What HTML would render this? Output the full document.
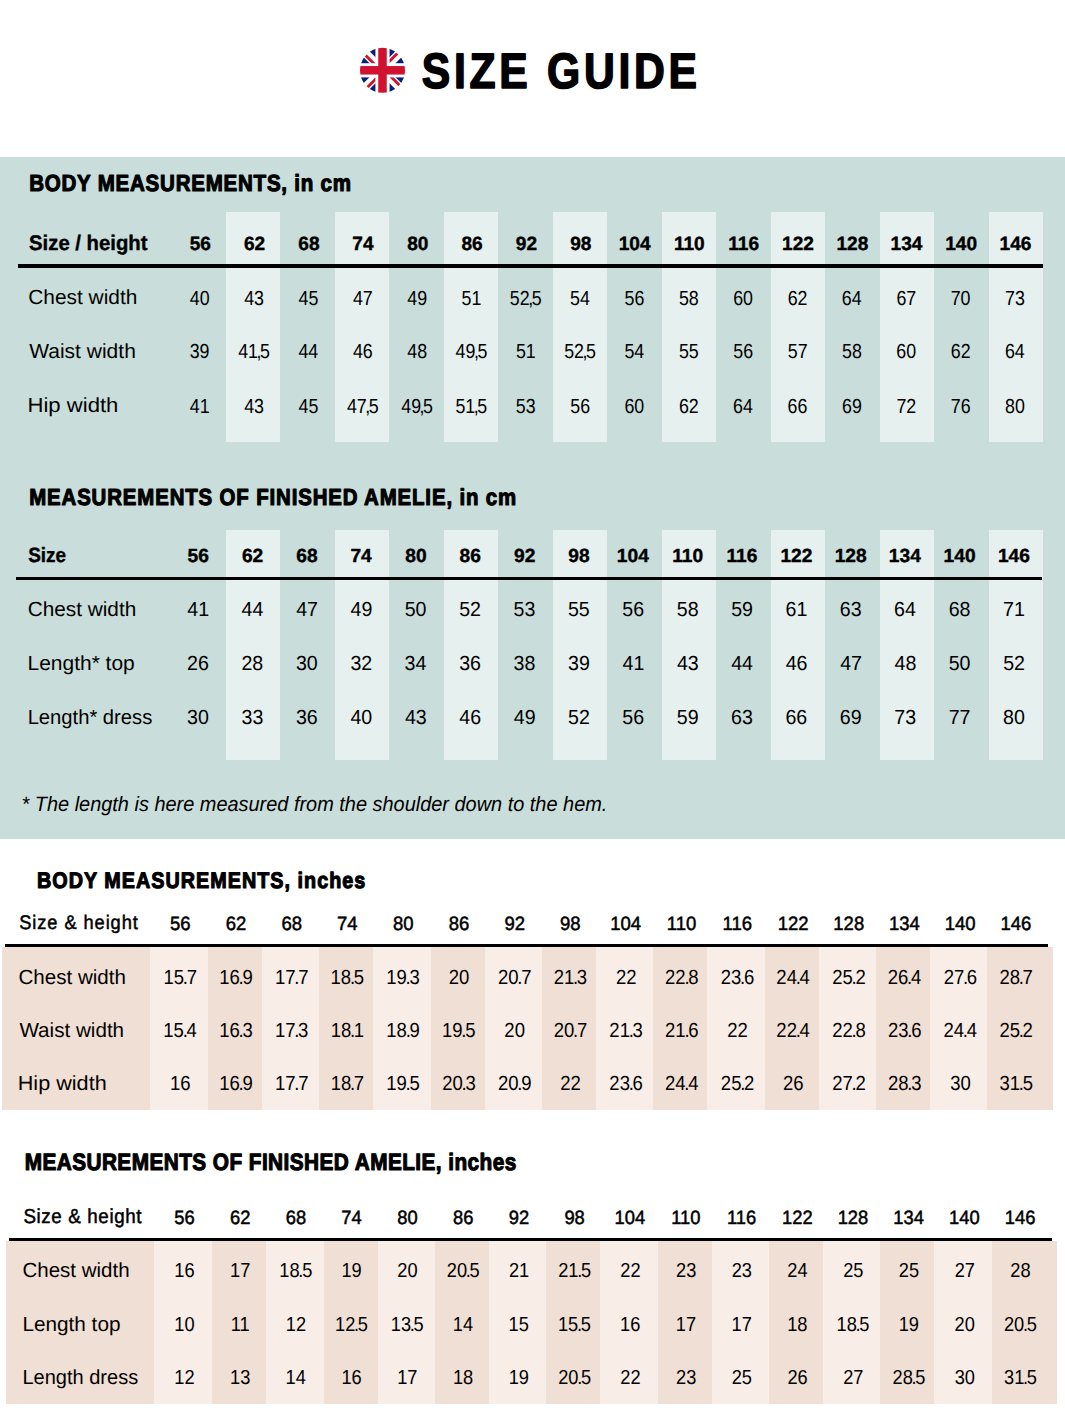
<!DOCTYPE html>
<html><head><meta charset="utf-8"><title>Size Guide</title>
<style>
html,body{margin:0;padding:0;background:#fff;}
body{width:1065px;height:1420px;position:relative;overflow:hidden;font-family:"Liberation Sans",sans-serif;}
#bg div{position:absolute;}
svg{position:absolute;left:0;top:0;}
text{font-family:"Liberation Sans",sans-serif;fill:#000;text-rendering:geometricPrecision;}
.b{font-weight:bold;}
.i{font-style:italic;}
</style></head><body>
<div id="bg">
<div style="left:0.00px;top:157.00px;width:1065.00px;height:681.50px;background:#c9dedb"></div>
<div style="left:226.00px;top:212.00px;width:54.00px;height:230.00px;background:#e6f0ee"></div>
<div style="left:335.00px;top:212.00px;width:54.00px;height:230.00px;background:#e6f0ee"></div>
<div style="left:444.00px;top:212.00px;width:54.00px;height:230.00px;background:#e6f0ee"></div>
<div style="left:553.00px;top:212.00px;width:54.00px;height:230.00px;background:#e6f0ee"></div>
<div style="left:662.00px;top:212.00px;width:54.00px;height:230.00px;background:#e6f0ee"></div>
<div style="left:771.00px;top:212.00px;width:54.00px;height:230.00px;background:#e6f0ee"></div>
<div style="left:880.00px;top:212.00px;width:54.00px;height:230.00px;background:#e6f0ee"></div>
<div style="left:989.00px;top:212.00px;width:54.00px;height:230.00px;background:#e6f0ee"></div>
<div style="left:18.00px;top:264.00px;width:1025.00px;height:4.00px;background:#000"></div>
<div style="left:226.00px;top:530.30px;width:54.00px;height:229.80px;background:#e6f0ee"></div>
<div style="left:335.00px;top:530.30px;width:54.00px;height:229.80px;background:#e6f0ee"></div>
<div style="left:444.00px;top:530.30px;width:54.00px;height:229.80px;background:#e6f0ee"></div>
<div style="left:553.00px;top:530.30px;width:54.00px;height:229.80px;background:#e6f0ee"></div>
<div style="left:662.00px;top:530.30px;width:54.00px;height:229.80px;background:#e6f0ee"></div>
<div style="left:771.00px;top:530.30px;width:54.00px;height:229.80px;background:#e6f0ee"></div>
<div style="left:880.00px;top:530.30px;width:54.00px;height:229.80px;background:#e6f0ee"></div>
<div style="left:989.00px;top:530.30px;width:54.00px;height:229.80px;background:#e6f0ee"></div>
<div style="left:15.80px;top:577.00px;width:1026.20px;height:3.00px;background:#000"></div>
<div style="left:2.00px;top:947.00px;width:1051.00px;height:162.80px;background:#f8ede7"></div>
<div style="left:2.00px;top:947.00px;width:148.30px;height:162.80px;background:#f0dfd4"></div>
<div style="left:208.00px;top:947.00px;width:54.00px;height:162.80px;background:#f0dfd4"></div>
<div style="left:319.33px;top:947.00px;width:54.00px;height:162.80px;background:#f0dfd4"></div>
<div style="left:430.66px;top:947.00px;width:54.00px;height:162.80px;background:#f0dfd4"></div>
<div style="left:541.99px;top:947.00px;width:54.00px;height:162.80px;background:#f0dfd4"></div>
<div style="left:653.32px;top:947.00px;width:54.00px;height:162.80px;background:#f0dfd4"></div>
<div style="left:764.65px;top:947.00px;width:54.00px;height:162.80px;background:#f0dfd4"></div>
<div style="left:875.98px;top:947.00px;width:54.00px;height:162.80px;background:#f0dfd4"></div>
<div style="left:987.31px;top:947.00px;width:65.69px;height:162.80px;background:#f0dfd4"></div>
<div style="left:5.00px;top:944.00px;width:1043.00px;height:3.00px;background:#000"></div>
<div style="left:6.00px;top:1240.50px;width:1051.00px;height:163.20px;background:#f8ede7"></div>
<div style="left:6.00px;top:1240.50px;width:148.20px;height:163.20px;background:#f0dfd4"></div>
<div style="left:212.30px;top:1240.50px;width:54.00px;height:163.20px;background:#f0dfd4"></div>
<div style="left:323.63px;top:1240.50px;width:54.00px;height:163.20px;background:#f0dfd4"></div>
<div style="left:434.96px;top:1240.50px;width:54.00px;height:163.20px;background:#f0dfd4"></div>
<div style="left:546.29px;top:1240.50px;width:54.00px;height:163.20px;background:#f0dfd4"></div>
<div style="left:657.62px;top:1240.50px;width:54.00px;height:163.20px;background:#f0dfd4"></div>
<div style="left:768.95px;top:1240.50px;width:54.00px;height:163.20px;background:#f0dfd4"></div>
<div style="left:880.28px;top:1240.50px;width:54.00px;height:163.20px;background:#f0dfd4"></div>
<div style="left:991.61px;top:1240.50px;width:65.39px;height:163.20px;background:#f0dfd4"></div>
<div style="left:9.00px;top:1238.00px;width:1042.50px;height:3.00px;background:#000"></div>
</div>
<svg width="1065" height="1420" viewBox="0 0 1065 1420">
<g transform="translate(382.5,70.3)">
<rect x="-24" y="-24" width="48" height="48" fill="#05207a"/>
<path d="M-24-24L24 24M24-24L-24 24" stroke="#fff" stroke-width="8.5"/>
<path d="M-1 1L-24-22M-1-1L22-24M1-1L24 22M1 1L-22 24" stroke="#d0112f" stroke-width="2.83"/>
<rect x="-7.1" y="-24" width="14.2" height="48" fill="#fff"/>
<rect x="-24" y="-7.1" width="48" height="14.2" fill="#fff"/>
<rect x="-4.25" y="-24" width="8.5" height="48" fill="#d0112f"/>
<rect x="-24" y="-4.25" width="48" height="8.5" fill="#d0112f"/>
<circle r="30.5" fill="none" stroke="#fff" stroke-width="16"/>
</g>
<text class="b" font-size="49.60" transform="translate(421.71,88.00) scale(0.8600,1)" letter-spacing="4.336" stroke="#000" stroke-width="1.6" stroke-linejoin="round">SIZE GUIDE</text>
<text class="b" font-size="23.35" transform="translate(29.20,191.00) scale(0.8800,1)" letter-spacing="0.859" stroke="#000" stroke-width="1.1" stroke-linejoin="round">BODY MEASUREMENTS, in cm</text>
<text class="b" font-size="21.09" transform="translate(29.08,250.00) scale(0.9631,1)" stroke="#000" stroke-width="0.4" stroke-linejoin="round">Size / height</text>
<text class="b" font-size="19.22" transform="translate(189.65,250.00) scale(0.9936,1)" stroke="#000" stroke-width="0.4" stroke-linejoin="round">56</text>
<text class="b" font-size="19.22" transform="translate(243.97,250.00) scale(0.9936,1)" stroke="#000" stroke-width="0.4" stroke-linejoin="round">62</text>
<text class="b" font-size="19.22" transform="translate(298.27,250.00) scale(0.9936,1)" stroke="#000" stroke-width="0.4" stroke-linejoin="round">68</text>
<text class="b" font-size="19.22" transform="translate(352.35,250.00) scale(0.9936,1)" stroke="#000" stroke-width="0.4" stroke-linejoin="round">74</text>
<text class="b" font-size="19.22" transform="translate(407.15,250.00) scale(0.9936,1)" stroke="#000" stroke-width="0.4" stroke-linejoin="round">80</text>
<text class="b" font-size="19.22" transform="translate(461.47,250.00) scale(0.9936,1)" stroke="#000" stroke-width="0.4" stroke-linejoin="round">86</text>
<text class="b" font-size="19.22" transform="translate(515.84,250.00) scale(0.9936,1)" stroke="#000" stroke-width="0.4" stroke-linejoin="round">92</text>
<text class="b" font-size="19.22" transform="translate(570.14,250.00) scale(0.9936,1)" stroke="#000" stroke-width="0.4" stroke-linejoin="round">98</text>
<text class="b" font-size="19.22" transform="translate(618.69,250.00) scale(0.9936,1)" stroke="#000" stroke-width="0.4" stroke-linejoin="round">104</text>
<text class="b" font-size="19.22" transform="translate(673.92,250.00) scale(0.9936,1)" stroke="#000" stroke-width="0.4" stroke-linejoin="round">110</text>
<text class="b" font-size="19.22" transform="translate(728.24,250.00) scale(0.9936,1)" stroke="#000" stroke-width="0.4" stroke-linejoin="round">116</text>
<text class="b" font-size="19.22" transform="translate(782.11,250.00) scale(0.9936,1)" stroke="#000" stroke-width="0.4" stroke-linejoin="round">122</text>
<text class="b" font-size="19.22" transform="translate(836.41,250.00) scale(0.9936,1)" stroke="#000" stroke-width="0.4" stroke-linejoin="round">128</text>
<text class="b" font-size="19.22" transform="translate(890.54,250.00) scale(0.9936,1)" stroke="#000" stroke-width="0.4" stroke-linejoin="round">134</text>
<text class="b" font-size="19.22" transform="translate(945.24,250.00) scale(0.9936,1)" stroke="#000" stroke-width="0.4" stroke-linejoin="round">140</text>
<text class="b" font-size="19.22" transform="translate(999.56,250.00) scale(0.9936,1)" stroke="#000" stroke-width="0.4" stroke-linejoin="round">146</text>
<text class="r" font-size="20.50" transform="translate(28.26,304.40) scale(1.0186,1)">Chest width</text>
<text class="r" font-size="20.35" transform="translate(189.74,304.60) scale(0.8759,1)">40</text>
<text class="r" font-size="20.35" transform="translate(244.15,304.60) scale(0.8759,1)">43</text>
<text class="r" font-size="20.35" transform="translate(298.50,304.60) scale(0.8759,1)">45</text>
<text class="r" font-size="20.35" transform="translate(352.96,304.60) scale(0.8759,1)">47</text>
<text class="r" font-size="20.35" transform="translate(407.29,304.60) scale(0.8759,1)">49</text>
<text class="r" font-size="20.35" transform="translate(461.52,304.60) scale(0.8759,1)">51</text>
<text class="r" font-size="20.35" transform="translate(509.83,304.60) scale(0.8759,1)">52<tspan dx="-1.658">,</tspan><tspan dx="-1.658">5</tspan></text>
<text class="r" font-size="20.35" transform="translate(570.08,304.60) scale(0.8759,1)">54</text>
<text class="r" font-size="20.35" transform="translate(624.59,304.60) scale(0.8759,1)">56</text>
<text class="r" font-size="20.35" transform="translate(678.96,304.60) scale(0.8759,1)">58</text>
<text class="r" font-size="20.35" transform="translate(733.19,304.60) scale(0.8759,1)">60</text>
<text class="r" font-size="20.35" transform="translate(787.68,304.60) scale(0.8759,1)">62</text>
<text class="r" font-size="20.35" transform="translate(841.84,304.60) scale(0.8759,1)">64</text>
<text class="r" font-size="20.35" transform="translate(896.42,304.60) scale(0.8759,1)">67</text>
<text class="r" font-size="20.35" transform="translate(950.67,304.60) scale(0.8759,1)">70</text>
<text class="r" font-size="20.35" transform="translate(1005.09,304.60) scale(0.8759,1)">73</text>
<text class="r" font-size="20.50" transform="translate(29.19,358.20) scale(1.0248,1)">Waist width</text>
<text class="r" font-size="20.35" transform="translate(189.67,358.40) scale(0.8759,1)">39</text>
<text class="r" font-size="20.35" transform="translate(238.14,358.40) scale(0.8759,1)">41<tspan dx="-1.658">,</tspan><tspan dx="-1.658">5</tspan></text>
<text class="r" font-size="20.35" transform="translate(298.39,358.40) scale(0.8759,1)">44</text>
<text class="r" font-size="20.35" transform="translate(352.89,358.40) scale(0.8759,1)">46</text>
<text class="r" font-size="20.35" transform="translate(407.26,358.40) scale(0.8759,1)">48</text>
<text class="r" font-size="20.35" transform="translate(455.62,358.40) scale(0.8759,1)">49<tspan dx="-1.658">,</tspan><tspan dx="-1.658">5</tspan></text>
<text class="r" font-size="20.35" transform="translate(515.89,358.40) scale(0.8759,1)">51</text>
<text class="r" font-size="20.35" transform="translate(564.20,358.40) scale(0.8759,1)">52<tspan dx="-1.658">,</tspan><tspan dx="-1.658">5</tspan></text>
<text class="r" font-size="20.35" transform="translate(624.45,358.40) scale(0.8759,1)">54</text>
<text class="r" font-size="20.35" transform="translate(678.94,358.40) scale(0.8759,1)">55</text>
<text class="r" font-size="20.35" transform="translate(733.33,358.40) scale(0.8759,1)">56</text>
<text class="r" font-size="20.35" transform="translate(787.76,358.40) scale(0.8759,1)">57</text>
<text class="r" font-size="20.35" transform="translate(842.07,358.40) scale(0.8759,1)">58</text>
<text class="r" font-size="20.35" transform="translate(896.30,358.40) scale(0.8759,1)">60</text>
<text class="r" font-size="20.35" transform="translate(950.79,358.40) scale(0.8759,1)">62</text>
<text class="r" font-size="20.35" transform="translate(1004.95,358.40) scale(0.8759,1)">64</text>
<text class="r" font-size="20.50" transform="translate(27.48,412.30) scale(1.0783,1)">Hip width</text>
<text class="r" font-size="20.35" transform="translate(189.83,412.50) scale(0.8759,1)">41</text>
<text class="r" font-size="20.35" transform="translate(244.15,412.50) scale(0.8759,1)">43</text>
<text class="r" font-size="20.35" transform="translate(298.50,412.50) scale(0.8759,1)">45</text>
<text class="r" font-size="20.35" transform="translate(346.88,412.50) scale(0.8759,1)">47<tspan dx="-1.658">,</tspan><tspan dx="-1.658">5</tspan></text>
<text class="r" font-size="20.35" transform="translate(401.25,412.50) scale(0.8759,1)">49<tspan dx="-1.658">,</tspan><tspan dx="-1.658">5</tspan></text>
<text class="r" font-size="20.35" transform="translate(455.46,412.50) scale(0.8759,1)">51<tspan dx="-1.658">,</tspan><tspan dx="-1.658">5</tspan></text>
<text class="r" font-size="20.35" transform="translate(515.85,412.50) scale(0.8759,1)">53</text>
<text class="r" font-size="20.35" transform="translate(570.22,412.50) scale(0.8759,1)">56</text>
<text class="r" font-size="20.35" transform="translate(624.45,412.50) scale(0.8759,1)">60</text>
<text class="r" font-size="20.35" transform="translate(678.94,412.50) scale(0.8759,1)">62</text>
<text class="r" font-size="20.35" transform="translate(733.10,412.50) scale(0.8759,1)">64</text>
<text class="r" font-size="20.35" transform="translate(787.61,412.50) scale(0.8759,1)">66</text>
<text class="r" font-size="20.35" transform="translate(842.00,412.50) scale(0.8759,1)">69</text>
<text class="r" font-size="20.35" transform="translate(896.42,412.50) scale(0.8759,1)">72</text>
<text class="r" font-size="20.35" transform="translate(950.72,412.50) scale(0.8759,1)">76</text>
<text class="r" font-size="20.35" transform="translate(1005.11,412.50) scale(0.8759,1)">80</text>
<text class="b" font-size="23.20" transform="translate(29.21,505.00) scale(0.8800,1)" letter-spacing="0.983" stroke="#000" stroke-width="1.1" stroke-linejoin="round">MEASUREMENTS OF FINISHED AMELIE, in cm</text>
<text class="b" font-size="20.65" transform="translate(28.21,562.00) scale(0.9179,1)" stroke="#000" stroke-width="0.4" stroke-linejoin="round">Size</text>
<text class="b" font-size="18.94" transform="translate(187.61,561.70) scale(1.0119,1)" stroke="#000" stroke-width="0.4" stroke-linejoin="round">56</text>
<text class="b" font-size="18.94" transform="translate(241.96,561.70) scale(1.0119,1)" stroke="#000" stroke-width="0.4" stroke-linejoin="round">62</text>
<text class="b" font-size="18.94" transform="translate(296.29,561.70) scale(1.0119,1)" stroke="#000" stroke-width="0.4" stroke-linejoin="round">68</text>
<text class="b" font-size="18.94" transform="translate(350.40,561.70) scale(1.0119,1)" stroke="#000" stroke-width="0.4" stroke-linejoin="round">74</text>
<text class="b" font-size="18.94" transform="translate(405.24,561.70) scale(1.0119,1)" stroke="#000" stroke-width="0.4" stroke-linejoin="round">80</text>
<text class="b" font-size="18.94" transform="translate(459.59,561.70) scale(1.0119,1)" stroke="#000" stroke-width="0.4" stroke-linejoin="round">86</text>
<text class="b" font-size="18.94" transform="translate(513.99,561.70) scale(1.0119,1)" stroke="#000" stroke-width="0.4" stroke-linejoin="round">92</text>
<text class="b" font-size="18.94" transform="translate(568.32,561.70) scale(1.0119,1)" stroke="#000" stroke-width="0.4" stroke-linejoin="round">98</text>
<text class="b" font-size="18.94" transform="translate(616.87,561.70) scale(1.0119,1)" stroke="#000" stroke-width="0.4" stroke-linejoin="round">104</text>
<text class="b" font-size="18.94" transform="translate(672.13,561.70) scale(1.0119,1)" stroke="#000" stroke-width="0.4" stroke-linejoin="round">110</text>
<text class="b" font-size="18.94" transform="translate(726.48,561.70) scale(1.0119,1)" stroke="#000" stroke-width="0.4" stroke-linejoin="round">116</text>
<text class="b" font-size="18.94" transform="translate(780.38,561.70) scale(1.0119,1)" stroke="#000" stroke-width="0.4" stroke-linejoin="round">122</text>
<text class="b" font-size="18.94" transform="translate(834.71,561.70) scale(1.0119,1)" stroke="#000" stroke-width="0.4" stroke-linejoin="round">128</text>
<text class="b" font-size="18.94" transform="translate(888.87,561.70) scale(1.0119,1)" stroke="#000" stroke-width="0.4" stroke-linejoin="round">134</text>
<text class="b" font-size="18.94" transform="translate(943.61,561.70) scale(1.0119,1)" stroke="#000" stroke-width="0.4" stroke-linejoin="round">140</text>
<text class="b" font-size="18.94" transform="translate(997.96,561.70) scale(1.0119,1)" stroke="#000" stroke-width="0.4" stroke-linejoin="round">146</text>
<text class="r" font-size="20.50" transform="translate(27.66,615.90) scale(1.0138,1)">Chest width</text>
<text class="r" font-size="20.35" transform="translate(187.36,616.10) scale(0.9637,1)">41</text>
<text class="r" font-size="20.35" transform="translate(241.56,616.10) scale(0.9637,1)">44</text>
<text class="r" font-size="20.35" transform="translate(296.18,616.10) scale(0.9637,1)">47</text>
<text class="r" font-size="20.35" transform="translate(350.53,616.10) scale(0.9637,1)">49</text>
<text class="r" font-size="20.35" transform="translate(404.69,616.10) scale(0.9637,1)">50</text>
<text class="r" font-size="20.35" transform="translate(459.21,616.10) scale(0.9637,1)">52</text>
<text class="r" font-size="20.35" transform="translate(513.54,616.10) scale(0.9637,1)">53</text>
<text class="r" font-size="20.35" transform="translate(567.91,616.10) scale(0.9637,1)">55</text>
<text class="r" font-size="20.35" transform="translate(622.34,616.10) scale(0.9637,1)">56</text>
<text class="r" font-size="20.35" transform="translate(676.74,616.10) scale(0.9637,1)">58</text>
<text class="r" font-size="20.35" transform="translate(731.16,616.10) scale(0.9637,1)">59</text>
<text class="r" font-size="20.35" transform="translate(785.49,616.10) scale(0.9637,1)">61</text>
<text class="r" font-size="20.35" transform="translate(839.84,616.10) scale(0.9637,1)">63</text>
<text class="r" font-size="20.35" transform="translate(894.09,616.10) scale(0.9637,1)">64</text>
<text class="r" font-size="20.35" transform="translate(948.64,616.10) scale(0.9637,1)">68</text>
<text class="r" font-size="20.35" transform="translate(1003.09,616.10) scale(0.9637,1)">71</text>
<text class="r" font-size="20.50" transform="translate(27.57,669.70) scale(1.0220,1)">Length* top</text>
<text class="r" font-size="20.35" transform="translate(187.04,669.90) scale(0.9637,1)">26</text>
<text class="r" font-size="20.35" transform="translate(241.44,669.90) scale(0.9637,1)">28</text>
<text class="r" font-size="20.35" transform="translate(295.91,669.90) scale(0.9637,1)">30</text>
<text class="r" font-size="20.35" transform="translate(350.44,669.90) scale(0.9637,1)">32</text>
<text class="r" font-size="20.35" transform="translate(404.62,669.90) scale(0.9637,1)">34</text>
<text class="r" font-size="20.35" transform="translate(459.16,669.90) scale(0.9637,1)">36</text>
<text class="r" font-size="20.35" transform="translate(513.56,669.90) scale(0.9637,1)">38</text>
<text class="r" font-size="20.35" transform="translate(567.99,669.90) scale(0.9637,1)">39</text>
<text class="r" font-size="20.35" transform="translate(622.56,669.90) scale(0.9637,1)">41</text>
<text class="r" font-size="20.35" transform="translate(676.91,669.90) scale(0.9637,1)">43</text>
<text class="r" font-size="20.35" transform="translate(731.16,669.90) scale(0.9637,1)">44</text>
<text class="r" font-size="20.35" transform="translate(785.71,669.90) scale(0.9637,1)">46</text>
<text class="r" font-size="20.35" transform="translate(840.18,669.90) scale(0.9637,1)">47</text>
<text class="r" font-size="20.35" transform="translate(894.51,669.90) scale(0.9637,1)">48</text>
<text class="r" font-size="20.35" transform="translate(948.69,669.90) scale(0.9637,1)">50</text>
<text class="r" font-size="20.35" transform="translate(1003.21,669.90) scale(0.9637,1)">52</text>
<text class="r" font-size="20.50" transform="translate(27.63,723.80) scale(0.9849,1)">Length* dress</text>
<text class="r" font-size="20.35" transform="translate(187.11,724.00) scale(0.9637,1)">30</text>
<text class="r" font-size="20.35" transform="translate(241.56,724.00) scale(0.9637,1)">33</text>
<text class="r" font-size="20.35" transform="translate(295.96,724.00) scale(0.9637,1)">36</text>
<text class="r" font-size="20.35" transform="translate(350.46,724.00) scale(0.9637,1)">40</text>
<text class="r" font-size="20.35" transform="translate(404.91,724.00) scale(0.9637,1)">43</text>
<text class="r" font-size="20.35" transform="translate(459.31,724.00) scale(0.9637,1)">46</text>
<text class="r" font-size="20.35" transform="translate(513.73,724.00) scale(0.9637,1)">49</text>
<text class="r" font-size="20.35" transform="translate(568.01,724.00) scale(0.9637,1)">52</text>
<text class="r" font-size="20.35" transform="translate(622.34,724.00) scale(0.9637,1)">56</text>
<text class="r" font-size="20.35" transform="translate(676.76,724.00) scale(0.9637,1)">59</text>
<text class="r" font-size="20.35" transform="translate(731.04,724.00) scale(0.9637,1)">63</text>
<text class="r" font-size="20.35" transform="translate(785.44,724.00) scale(0.9637,1)">66</text>
<text class="r" font-size="20.35" transform="translate(839.87,724.00) scale(0.9637,1)">69</text>
<text class="r" font-size="20.35" transform="translate(894.24,724.00) scale(0.9637,1)">73</text>
<text class="r" font-size="20.35" transform="translate(948.71,724.00) scale(0.9637,1)">77</text>
<text class="r" font-size="20.35" transform="translate(1003.07,724.00) scale(0.9637,1)">80</text>
<text class="i" font-size="20.80" transform="translate(21.50,811.20) scale(0.9580,1)">* The length is here measured from the shoulder down to the hem.</text>
<text class="b" font-size="22.47" transform="translate(37.05,888.00) scale(0.8800,1)" letter-spacing="1.148" stroke="#000" stroke-width="1.1" stroke-linejoin="round">BODY MEASUREMENTS, inches</text>
<text class="r" font-size="19.64" transform="translate(19.21,929.15) scale(0.9300,1)" letter-spacing="0.993" stroke="#000" stroke-width="0.5" stroke-linejoin="round">Size &amp; height</text>
<text class="r" font-size="19.22" transform="translate(170.05,929.95) scale(0.9630,1)" stroke="#000" stroke-width="0.5" stroke-linejoin="round">56</text>
<text class="r" font-size="19.22" transform="translate(225.76,929.95) scale(0.9630,1)" stroke="#000" stroke-width="0.5" stroke-linejoin="round">62</text>
<text class="r" font-size="19.22" transform="translate(281.42,929.95) scale(0.9630,1)" stroke="#000" stroke-width="0.5" stroke-linejoin="round">68</text>
<text class="r" font-size="19.22" transform="translate(337.01,929.95) scale(0.9630,1)" stroke="#000" stroke-width="0.5" stroke-linejoin="round">74</text>
<text class="r" font-size="19.22" transform="translate(392.90,929.95) scale(0.9630,1)" stroke="#000" stroke-width="0.5" stroke-linejoin="round">80</text>
<text class="r" font-size="19.22" transform="translate(448.68,929.95) scale(0.9630,1)" stroke="#000" stroke-width="0.5" stroke-linejoin="round">86</text>
<text class="r" font-size="19.22" transform="translate(504.43,929.95) scale(0.9630,1)" stroke="#000" stroke-width="0.5" stroke-linejoin="round">92</text>
<text class="r" font-size="19.22" transform="translate(560.09,929.95) scale(0.9630,1)" stroke="#000" stroke-width="0.5" stroke-linejoin="round">98</text>
<text class="r" font-size="19.22" transform="translate(610.27,929.95) scale(0.9630,1)" stroke="#000" stroke-width="0.5" stroke-linejoin="round">104</text>
<text class="r" font-size="19.22" transform="translate(666.78,929.95) scale(0.9630,1)" stroke="#000" stroke-width="0.5" stroke-linejoin="round">110</text>
<text class="r" font-size="19.22" transform="translate(722.56,929.95) scale(0.9630,1)" stroke="#000" stroke-width="0.5" stroke-linejoin="round">116</text>
<text class="r" font-size="19.22" transform="translate(777.66,929.95) scale(0.9630,1)" stroke="#000" stroke-width="0.5" stroke-linejoin="round">122</text>
<text class="r" font-size="19.22" transform="translate(833.32,929.95) scale(0.9630,1)" stroke="#000" stroke-width="0.5" stroke-linejoin="round">128</text>
<text class="r" font-size="19.22" transform="translate(888.92,929.95) scale(0.9630,1)" stroke="#000" stroke-width="0.5" stroke-linejoin="round">134</text>
<text class="r" font-size="19.22" transform="translate(944.74,929.95) scale(0.9630,1)" stroke="#000" stroke-width="0.5" stroke-linejoin="round">140</text>
<text class="r" font-size="19.22" transform="translate(1000.51,929.95) scale(0.9630,1)" stroke="#000" stroke-width="0.5" stroke-linejoin="round">146</text>
<text class="r" font-size="20.50" transform="translate(18.47,983.60) scale(1.0033,1)">Chest width</text>
<text class="r" font-size="20.49" transform="translate(163.53,983.80) scale(0.9034,1)">15<tspan dx="-1.401">.</tspan><tspan dx="-1.401">7</tspan></text>
<text class="r" font-size="20.49" transform="translate(219.19,983.80) scale(0.9034,1)">16<tspan dx="-1.401">.</tspan><tspan dx="-1.401">9</tspan></text>
<text class="r" font-size="20.49" transform="translate(274.95,983.80) scale(0.9034,1)">17<tspan dx="-1.401">.</tspan><tspan dx="-1.401">7</tspan></text>
<text class="r" font-size="20.49" transform="translate(330.57,983.80) scale(0.9034,1)">18<tspan dx="-1.401">.</tspan><tspan dx="-1.401">5</tspan></text>
<text class="r" font-size="20.49" transform="translate(386.30,983.80) scale(0.9034,1)">19<tspan dx="-1.401">.</tspan><tspan dx="-1.401">3</tspan></text>
<text class="r" font-size="20.49" transform="translate(448.66,983.80) scale(0.9034,1)">20</text>
<text class="r" font-size="20.49" transform="translate(498.02,983.80) scale(0.9034,1)">20<tspan dx="-1.401">.</tspan><tspan dx="-1.401">7</tspan></text>
<text class="r" font-size="20.49" transform="translate(553.66,983.80) scale(0.9034,1)">21<tspan dx="-1.401">.</tspan><tspan dx="-1.401">3</tspan></text>
<text class="r" font-size="20.49" transform="translate(615.90,983.80) scale(0.9034,1)">22</text>
<text class="r" font-size="20.49" transform="translate(665.08,983.80) scale(0.9034,1)">22<tspan dx="-1.401">.</tspan><tspan dx="-1.401">8</tspan></text>
<text class="r" font-size="20.49" transform="translate(720.79,983.80) scale(0.9034,1)">23<tspan dx="-1.401">.</tspan><tspan dx="-1.401">6</tspan></text>
<text class="r" font-size="20.49" transform="translate(776.36,983.80) scale(0.9034,1)">24<tspan dx="-1.401">.</tspan><tspan dx="-1.401">4</tspan></text>
<text class="r" font-size="20.49" transform="translate(832.28,983.80) scale(0.9034,1)">25<tspan dx="-1.401">.</tspan><tspan dx="-1.401">2</tspan></text>
<text class="r" font-size="20.49" transform="translate(887.78,983.80) scale(0.9034,1)">26<tspan dx="-1.401">.</tspan><tspan dx="-1.401">4</tspan></text>
<text class="r" font-size="20.49" transform="translate(943.63,983.80) scale(0.9034,1)">27<tspan dx="-1.401">.</tspan><tspan dx="-1.401">6</tspan></text>
<text class="r" font-size="20.49" transform="translate(999.41,983.80) scale(0.9034,1)">28<tspan dx="-1.401">.</tspan><tspan dx="-1.401">7</tspan></text>
<text class="r" font-size="20.50" transform="translate(19.40,1036.90) scale(1.0063,1)">Waist width</text>
<text class="r" font-size="20.49" transform="translate(163.32,1037.10) scale(0.9034,1)">15<tspan dx="-1.401">.</tspan><tspan dx="-1.401">4</tspan></text>
<text class="r" font-size="20.49" transform="translate(219.17,1037.10) scale(0.9034,1)">16<tspan dx="-1.401">.</tspan><tspan dx="-1.401">3</tspan></text>
<text class="r" font-size="20.49" transform="translate(274.88,1037.10) scale(0.9034,1)">17<tspan dx="-1.401">.</tspan><tspan dx="-1.401">3</tspan></text>
<text class="r" font-size="20.49" transform="translate(330.64,1037.10) scale(0.9034,1)">18<tspan dx="-1.401">.</tspan><tspan dx="-1.401">1</tspan></text>
<text class="r" font-size="20.49" transform="translate(386.32,1037.10) scale(0.9034,1)">18<tspan dx="-1.401">.</tspan><tspan dx="-1.401">9</tspan></text>
<text class="r" font-size="20.49" transform="translate(441.99,1037.10) scale(0.9034,1)">19<tspan dx="-1.401">.</tspan><tspan dx="-1.401">5</tspan></text>
<text class="r" font-size="20.49" transform="translate(504.37,1037.10) scale(0.9034,1)">20</text>
<text class="r" font-size="20.49" transform="translate(553.73,1037.10) scale(0.9034,1)">20<tspan dx="-1.401">.</tspan><tspan dx="-1.401">7</tspan></text>
<text class="r" font-size="20.49" transform="translate(609.37,1037.10) scale(0.9034,1)">21<tspan dx="-1.401">.</tspan><tspan dx="-1.401">3</tspan></text>
<text class="r" font-size="20.49" transform="translate(665.08,1037.10) scale(0.9034,1)">21<tspan dx="-1.401">.</tspan><tspan dx="-1.401">6</tspan></text>
<text class="r" font-size="20.49" transform="translate(727.32,1037.10) scale(0.9034,1)">22</text>
<text class="r" font-size="20.49" transform="translate(776.36,1037.10) scale(0.9034,1)">22<tspan dx="-1.401">.</tspan><tspan dx="-1.401">4</tspan></text>
<text class="r" font-size="20.49" transform="translate(832.21,1037.10) scale(0.9034,1)">22<tspan dx="-1.401">.</tspan><tspan dx="-1.401">8</tspan></text>
<text class="r" font-size="20.49" transform="translate(887.92,1037.10) scale(0.9034,1)">23<tspan dx="-1.401">.</tspan><tspan dx="-1.401">6</tspan></text>
<text class="r" font-size="20.49" transform="translate(943.49,1037.10) scale(0.9034,1)">24<tspan dx="-1.401">.</tspan><tspan dx="-1.401">4</tspan></text>
<text class="r" font-size="20.49" transform="translate(999.41,1037.10) scale(0.9034,1)">25<tspan dx="-1.401">.</tspan><tspan dx="-1.401">2</tspan></text>
<text class="r" font-size="20.50" transform="translate(17.72,1090.20) scale(1.0549,1)">Hip width</text>
<text class="r" font-size="20.49" transform="translate(169.92,1090.40) scale(0.9034,1)">16</text>
<text class="r" font-size="20.49" transform="translate(219.19,1090.40) scale(0.9034,1)">16<tspan dx="-1.401">.</tspan><tspan dx="-1.401">9</tspan></text>
<text class="r" font-size="20.49" transform="translate(274.95,1090.40) scale(0.9034,1)">17<tspan dx="-1.401">.</tspan><tspan dx="-1.401">7</tspan></text>
<text class="r" font-size="20.49" transform="translate(330.66,1090.40) scale(0.9034,1)">18<tspan dx="-1.401">.</tspan><tspan dx="-1.401">7</tspan></text>
<text class="r" font-size="20.49" transform="translate(386.28,1090.40) scale(0.9034,1)">19<tspan dx="-1.401">.</tspan><tspan dx="-1.401">5</tspan></text>
<text class="r" font-size="20.49" transform="translate(442.24,1090.40) scale(0.9034,1)">20<tspan dx="-1.401">.</tspan><tspan dx="-1.401">3</tspan></text>
<text class="r" font-size="20.49" transform="translate(497.97,1090.40) scale(0.9034,1)">20<tspan dx="-1.401">.</tspan><tspan dx="-1.401">9</tspan></text>
<text class="r" font-size="20.49" transform="translate(560.19,1090.40) scale(0.9034,1)">22</text>
<text class="r" font-size="20.49" transform="translate(609.37,1090.40) scale(0.9034,1)">23<tspan dx="-1.401">.</tspan><tspan dx="-1.401">6</tspan></text>
<text class="r" font-size="20.49" transform="translate(664.94,1090.40) scale(0.9034,1)">24<tspan dx="-1.401">.</tspan><tspan dx="-1.401">4</tspan></text>
<text class="r" font-size="20.49" transform="translate(720.86,1090.40) scale(0.9034,1)">25<tspan dx="-1.401">.</tspan><tspan dx="-1.401">2</tspan></text>
<text class="r" font-size="20.49" transform="translate(782.96,1090.40) scale(0.9034,1)">26</text>
<text class="r" font-size="20.49" transform="translate(832.28,1090.40) scale(0.9034,1)">27<tspan dx="-1.401">.</tspan><tspan dx="-1.401">2</tspan></text>
<text class="r" font-size="20.49" transform="translate(887.92,1090.40) scale(0.9034,1)">28<tspan dx="-1.401">.</tspan><tspan dx="-1.401">3</tspan></text>
<text class="r" font-size="20.49" transform="translate(950.16,1090.40) scale(0.9034,1)">30</text>
<text class="r" font-size="20.49" transform="translate(999.43,1090.40) scale(0.9034,1)">31<tspan dx="-1.401">.</tspan><tspan dx="-1.401">5</tspan></text>
<text class="b" font-size="23.64" transform="translate(24.68,1170.00) scale(0.8800,1)" letter-spacing="0.492" stroke="#000" stroke-width="1.1" stroke-linejoin="round">MEASUREMENTS OF FINISHED AMELIE, inches</text>
<text class="r" font-size="20.22" transform="translate(23.39,1223.15) scale(0.9300,1)" letter-spacing="0.665" stroke="#000" stroke-width="0.5" stroke-linejoin="round">Size &amp; height</text>
<text class="r" font-size="19.22" transform="translate(174.35,1223.75) scale(0.9538,1)" stroke="#000" stroke-width="0.5" stroke-linejoin="round">56</text>
<text class="r" font-size="19.22" transform="translate(230.05,1223.75) scale(0.9538,1)" stroke="#000" stroke-width="0.5" stroke-linejoin="round">62</text>
<text class="r" font-size="19.22" transform="translate(285.72,1223.75) scale(0.9538,1)" stroke="#000" stroke-width="0.5" stroke-linejoin="round">68</text>
<text class="r" font-size="19.22" transform="translate(341.31,1223.75) scale(0.9538,1)" stroke="#000" stroke-width="0.5" stroke-linejoin="round">74</text>
<text class="r" font-size="19.22" transform="translate(397.20,1223.75) scale(0.9538,1)" stroke="#000" stroke-width="0.5" stroke-linejoin="round">80</text>
<text class="r" font-size="19.22" transform="translate(452.97,1223.75) scale(0.9538,1)" stroke="#000" stroke-width="0.5" stroke-linejoin="round">86</text>
<text class="r" font-size="19.22" transform="translate(508.73,1223.75) scale(0.9538,1)" stroke="#000" stroke-width="0.5" stroke-linejoin="round">92</text>
<text class="r" font-size="19.22" transform="translate(564.39,1223.75) scale(0.9538,1)" stroke="#000" stroke-width="0.5" stroke-linejoin="round">98</text>
<text class="r" font-size="19.22" transform="translate(614.62,1223.75) scale(0.9538,1)" stroke="#000" stroke-width="0.5" stroke-linejoin="round">104</text>
<text class="r" font-size="19.22" transform="translate(671.13,1223.75) scale(0.9538,1)" stroke="#000" stroke-width="0.5" stroke-linejoin="round">110</text>
<text class="r" font-size="19.22" transform="translate(726.90,1223.75) scale(0.9538,1)" stroke="#000" stroke-width="0.5" stroke-linejoin="round">116</text>
<text class="r" font-size="19.22" transform="translate(782.01,1223.75) scale(0.9538,1)" stroke="#000" stroke-width="0.5" stroke-linejoin="round">122</text>
<text class="r" font-size="19.22" transform="translate(837.68,1223.75) scale(0.9538,1)" stroke="#000" stroke-width="0.5" stroke-linejoin="round">128</text>
<text class="r" font-size="19.22" transform="translate(893.27,1223.75) scale(0.9538,1)" stroke="#000" stroke-width="0.5" stroke-linejoin="round">134</text>
<text class="r" font-size="19.22" transform="translate(949.09,1223.75) scale(0.9538,1)" stroke="#000" stroke-width="0.5" stroke-linejoin="round">140</text>
<text class="r" font-size="19.22" transform="translate(1004.87,1223.75) scale(0.9538,1)" stroke="#000" stroke-width="0.5" stroke-linejoin="round">146</text>
<text class="r" font-size="20.50" transform="translate(22.47,1277.20) scale(1.0004,1)">Chest width</text>
<text class="r" font-size="20.21" transform="translate(174.28,1277.40) scale(0.9021,1)">16</text>
<text class="r" font-size="20.21" transform="translate(230.07,1277.40) scale(0.9021,1)">17</text>
<text class="r" font-size="20.21" transform="translate(279.37,1277.40) scale(0.9021,1)">18<tspan dx="-1.422">.</tspan><tspan dx="-1.422">5</tspan></text>
<text class="r" font-size="20.21" transform="translate(341.47,1277.40) scale(0.9021,1)">19</text>
<text class="r" font-size="20.21" transform="translate(397.35,1277.40) scale(0.9021,1)">20</text>
<text class="r" font-size="20.21" transform="translate(446.76,1277.40) scale(0.9021,1)">20<tspan dx="-1.422">.</tspan><tspan dx="-1.422">5</tspan></text>
<text class="r" font-size="20.21" transform="translate(508.88,1277.40) scale(0.9021,1)">21</text>
<text class="r" font-size="20.21" transform="translate(558.20,1277.40) scale(0.9021,1)">21<tspan dx="-1.422">.</tspan><tspan dx="-1.422">5</tspan></text>
<text class="r" font-size="20.21" transform="translate(620.34,1277.40) scale(0.9021,1)">22</text>
<text class="r" font-size="20.21" transform="translate(675.99,1277.40) scale(0.9021,1)">23</text>
<text class="r" font-size="20.21" transform="translate(731.71,1277.40) scale(0.9021,1)">23</text>
<text class="r" font-size="20.21" transform="translate(787.30,1277.40) scale(0.9021,1)">24</text>
<text class="r" font-size="20.21" transform="translate(843.13,1277.40) scale(0.9021,1)">25</text>
<text class="r" font-size="20.21" transform="translate(898.85,1277.40) scale(0.9021,1)">25</text>
<text class="r" font-size="20.21" transform="translate(954.66,1277.40) scale(0.9021,1)">27</text>
<text class="r" font-size="20.21" transform="translate(1010.31,1277.40) scale(0.9021,1)">28</text>
<text class="r" font-size="20.50" transform="translate(22.39,1330.80) scale(1.0122,1)">Length top</text>
<text class="r" font-size="20.21" transform="translate(174.24,1331.00) scale(0.9021,1)">10</text>
<text class="r" font-size="20.21" transform="translate(230.71,1331.00) scale(0.9021,1)">11</text>
<text class="r" font-size="20.21" transform="translate(285.79,1331.00) scale(0.9021,1)">12</text>
<text class="r" font-size="20.21" transform="translate(335.09,1331.00) scale(0.9021,1)">12<tspan dx="-1.422">.</tspan><tspan dx="-1.422">5</tspan></text>
<text class="r" font-size="20.21" transform="translate(390.81,1331.00) scale(0.9021,1)">13<tspan dx="-1.422">.</tspan><tspan dx="-1.422">5</tspan></text>
<text class="r" font-size="20.21" transform="translate(452.75,1331.00) scale(0.9021,1)">14</text>
<text class="r" font-size="20.21" transform="translate(508.58,1331.00) scale(0.9021,1)">15</text>
<text class="r" font-size="20.21" transform="translate(557.97,1331.00) scale(0.9021,1)">15<tspan dx="-1.422">.</tspan><tspan dx="-1.422">5</tspan></text>
<text class="r" font-size="20.21" transform="translate(620.04,1331.00) scale(0.9021,1)">16</text>
<text class="r" font-size="20.21" transform="translate(675.83,1331.00) scale(0.9021,1)">17</text>
<text class="r" font-size="20.21" transform="translate(731.55,1331.00) scale(0.9021,1)">17</text>
<text class="r" font-size="20.21" transform="translate(787.20,1331.00) scale(0.9021,1)">18</text>
<text class="r" font-size="20.21" transform="translate(836.57,1331.00) scale(0.9021,1)">18<tspan dx="-1.422">.</tspan><tspan dx="-1.422">5</tspan></text>
<text class="r" font-size="20.21" transform="translate(898.67,1331.00) scale(0.9021,1)">19</text>
<text class="r" font-size="20.21" transform="translate(954.55,1331.00) scale(0.9021,1)">20</text>
<text class="r" font-size="20.21" transform="translate(1003.96,1331.00) scale(0.9021,1)">20<tspan dx="-1.422">.</tspan><tspan dx="-1.422">5</tspan></text>
<text class="r" font-size="20.50" transform="translate(22.45,1384.20) scale(0.9765,1)">Length dress</text>
<text class="r" font-size="20.21" transform="translate(174.35,1384.40) scale(0.9021,1)">12</text>
<text class="r" font-size="20.21" transform="translate(230.00,1384.40) scale(0.9021,1)">13</text>
<text class="r" font-size="20.21" transform="translate(285.59,1384.40) scale(0.9021,1)">14</text>
<text class="r" font-size="20.21" transform="translate(341.44,1384.40) scale(0.9021,1)">16</text>
<text class="r" font-size="20.21" transform="translate(397.23,1384.40) scale(0.9021,1)">17</text>
<text class="r" font-size="20.21" transform="translate(452.88,1384.40) scale(0.9021,1)">18</text>
<text class="r" font-size="20.21" transform="translate(508.63,1384.40) scale(0.9021,1)">19</text>
<text class="r" font-size="20.21" transform="translate(558.20,1384.40) scale(0.9021,1)">20<tspan dx="-1.422">.</tspan><tspan dx="-1.422">5</tspan></text>
<text class="r" font-size="20.21" transform="translate(620.34,1384.40) scale(0.9021,1)">22</text>
<text class="r" font-size="20.21" transform="translate(675.99,1384.40) scale(0.9021,1)">23</text>
<text class="r" font-size="20.21" transform="translate(731.69,1384.40) scale(0.9021,1)">25</text>
<text class="r" font-size="20.21" transform="translate(787.43,1384.40) scale(0.9021,1)">26</text>
<text class="r" font-size="20.21" transform="translate(843.22,1384.40) scale(0.9021,1)">27</text>
<text class="r" font-size="20.21" transform="translate(892.52,1384.40) scale(0.9021,1)">28<tspan dx="-1.422">.</tspan><tspan dx="-1.422">5</tspan></text>
<text class="r" font-size="20.21" transform="translate(954.66,1384.40) scale(0.9021,1)">30</text>
<text class="r" font-size="20.21" transform="translate(1004.07,1384.40) scale(0.9021,1)">31<tspan dx="-1.422">.</tspan><tspan dx="-1.422">5</tspan></text>
</svg>
</body></html>
